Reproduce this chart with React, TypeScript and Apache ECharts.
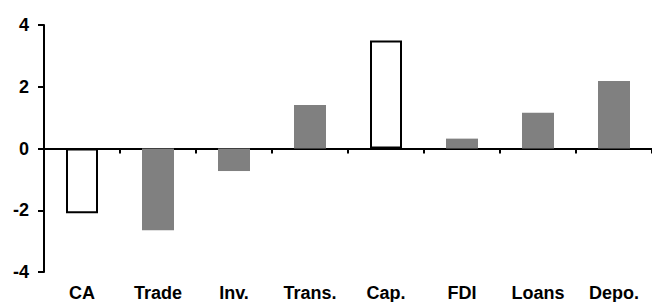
import React, { useEffect, useRef } from "react";
import * as echarts from "echarts";

const categories = ["CA", "Trade", "Inv.", "Trans.", "Cap.", "FDI", "Loans", "Depo."];
const values = [-2.1, -2.65, -0.73, 1.41, 3.5, 0.32, 1.16, 2.19];
const hollow = [true, false, false, false, true, false, false, false];
const yTicks = [-4, -2, 0, 2, 4];

const FONT = "'Liberation Sans', Arial, sans-serif";

export default function App() {
  const ref = useRef<HTMLDivElement>(null);
  useEffect(() => {
    if (!ref.current) return;
    const chart = echarts.init(ref.current, null, { renderer: "svg" });
    chart.setOption({
      animation: false,
      grid: { left: 44, right: -8, top: 25, bottom: 28, containLabel: false },
      xAxis: [
        {
          type: "category",
          data: categories,
          axisLine: { onZero: true, lineStyle: { color: "#000", width: 2 } },
          axisTick: { show: true, alignWithLabel: false, length: 5, lineStyle: { color: "#000", width: 2 } },
          axisLabel: { show: false },
          splitLine: { show: false },
        },
        {
          type: "category",
          data: categories,
          position: "bottom",
          axisLine: { show: false, onZero: false },
          axisTick: { show: false },
          axisLabel: {
            show: true,
            interval: 0,
            margin: 12,
            color: "#000",
            fontSize: 18,
            fontWeight: "bold",
            fontFamily: FONT,
          },
          splitLine: { show: false },
        },
      ],
      yAxis: {
        type: "value",
        min: yTicks[0],
        max: yTicks[yTicks.length - 1],
        interval: 2,
        axisLine: { show: true, lineStyle: { color: "#000", width: 2 } },
        axisTick: { show: true, inside: false, length: 6, lineStyle: { color: "#000", width: 2 } },
        axisLabel: {
          color: "#000",
          fontSize: 18,
          fontWeight: "bold",
          fontFamily: FONT,
          margin: 15,
          padding: [6, 0, 0, 0],
        },
        splitLine: { show: false },
      },
      series: [
        {
          type: "bar",
          xAxisIndex: 0,
          barWidth: 32,
          data: values.map((v, i) => ({
            value: v,
            itemStyle: hollow[i]
              ? { color: "#fff", borderColor: "#000", borderWidth: 2 }
              : { color: "#808080", borderWidth: 0 },
          })),
        },
      ],
    });
    return () => chart.dispose();
  }, []);
  return <div ref={ref} style={{ width: 652, height: 302, position: "absolute", left: 0, top: 0 }} />;
}
